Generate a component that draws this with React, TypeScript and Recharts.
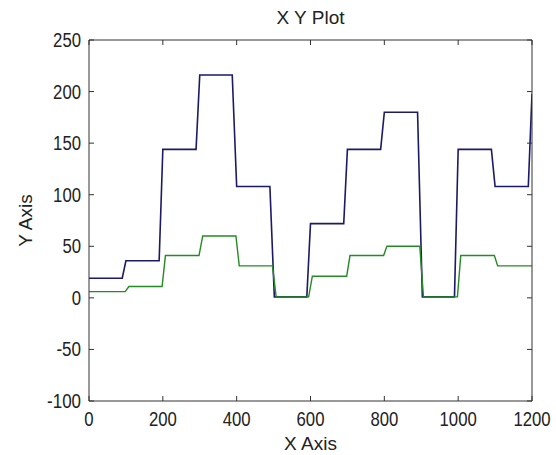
import React from 'react';
import { LineChart, Line, XAxis, YAxis } from 'recharts';

// blue series: step levels with short ramps just before each hundred
const blueX = [0, 90, 100, 190, 200, 290, 300, 388, 400, 490, 502, 590, 600, 690, 700, 790, 800, 890, 903, 990, 1000, 1090, 1100, 1190, 1200];
const blueY = [19, 19, 36, 36, 144, 144, 216, 216, 108, 108, 1, 1, 72, 72, 144, 144, 180, 180, 1, 1, 144, 144, 108, 108, 198];

// green series: lower levels, ramps just after each hundred
const greenX = [0, 98, 108, 198, 207, 298, 308, 398, 407, 497, 507, 595, 605, 698, 707, 798, 807, 896, 906, 998, 1007, 1098, 1107, 1200];
const greenY = [6, 6, 11, 11, 41, 41, 60, 60, 31, 31, 1, 1, 21, 21, 41, 41, 50, 50, 1, 1, 41, 41, 31, 31];

const xTicks = [0, 200, 400, 600, 800, 1000, 1200];
const yTicks = [-100, -50, 0, 50, 100, 150, 200, 250];

const blueData = blueX.map((x, i) => ({ x, y: blueY[i] }));
const greenData = greenX.map((x, i) => ({ x, y: greenY[i] }));

const AXIS = '#333';
const FONT = "'Liberation Sans', Arial, sans-serif";

// tick digits in the reference are tall and narrow: ~9.3px per digit, 6px for the minus
const labelWidth = (s: string) => s.split('').reduce((w, c) => w + (c === '-' ? 6 : 9.3), 0);

const NumText = ({ x, y, anchor, value }: any) => {
  const s = String(value);
  return (
    <text
      x={x}
      y={y}
      textAnchor={anchor}
      fontFamily={FONT}
      fontSize={20}
      fill="#222"
      textLength={labelWidth(s)}
      lengthAdjust="spacingAndGlyphs"
    >
      {s}
    </text>
  );
};

const BottomTick = ({ x, y, payload }: any) => (
  <g>
    <line x1={x} y1={y} x2={x} y2={y - 5} stroke={AXIS} />
    <NumText x={x} y={y + 25} anchor="middle" value={payload.value} />
  </g>
);

const TopTick = ({ x, y }: any) => <line x1={x} y1={y} x2={x} y2={y + 5} stroke={AXIS} />;

const LeftTick = ({ x, y, payload }: any) => (
  <g>
    <line x1={x} y1={y} x2={x + 5} y2={y} stroke={AXIS} />
    <NumText x={x - 8} y={y + 7} anchor="end" value={payload.value} />
  </g>
);

const RightTick = ({ x, y }: any) => <line x1={x} y1={y} x2={x - 5} y2={y} stroke={AXIS} />;

export default function App() {
  return (
    <div style={{ position: 'absolute', left: 0, top: 0, width: 556, height: 455, background: '#fff' }}>
      <LineChart width={556} height={455} margin={{ top: 39, right: 23, bottom: 53, left: 88 }}>
        <XAxis
          dataKey="x"
          type="number"
          domain={[0, 1200]}
          ticks={xTicks}
          height={1}
          tickSize={0}
          tickMargin={0}
          tickLine={false}
          tick={<BottomTick />}
          axisLine={{ stroke: AXIS }}
          allowDataOverflow
          label={{
            value: 'X Axis',
            position: 'bottom',
            offset: 35,
            style: { fontFamily: FONT, fontSize: 19, fill: '#222' },
          }}
        />
        <XAxis
          xAxisId="top"
          dataKey="x"
          orientation="top"
          type="number"
          domain={[0, 1200]}
          ticks={xTicks}
          height={1}
          tickSize={0}
          tickMargin={0}
          tickLine={false}
          tick={<TopTick />}
          axisLine={{ stroke: AXIS }}
          allowDataOverflow
          label={{
            value: 'X Y Plot',
            position: 'top',
            offset: 15,
            style: { fontFamily: FONT, fontSize: 19, fill: '#222' },
          }}
        />
        <YAxis
          type="number"
          domain={[-100, 250]}
          ticks={yTicks}
          width={1}
          tickSize={0}
          tickMargin={0}
          tickLine={false}
          tick={<LeftTick />}
          axisLine={{ stroke: AXIS }}
          allowDataOverflow
          label={{
            value: 'Y Axis',
            angle: -90,
            position: 'left',
            offset: 63,
            style: { fontFamily: FONT, fontSize: 19, fill: '#222', textAnchor: 'middle' },
          }}
        />
        <YAxis
          yAxisId="right"
          orientation="right"
          type="number"
          domain={[-100, 250]}
          ticks={yTicks}
          width={1}
          tickSize={0}
          tickMargin={0}
          tickLine={false}
          tick={<RightTick />}
          axisLine={{ stroke: AXIS }}
          allowDataOverflow
        />
        <Line
          data={blueData}
          dataKey="y"
          type="linear"
          stroke="#1a1a66"
          strokeWidth={1.6}
          dot={false}
          isAnimationActive={false}
        />
        <Line
          data={greenData}
          dataKey="y"
          type="linear"
          stroke="#248a24"
          strokeWidth={1.4}
          dot={false}
          isAnimationActive={false}
        />
      </LineChart>
    </div>
  );
}
